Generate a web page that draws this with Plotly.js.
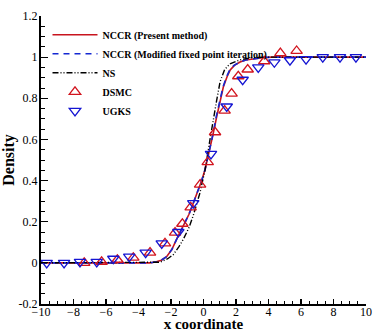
<!DOCTYPE html>
<html>
<head>
<meta charset="utf-8">
<script src="https://cdn.plot.ly/plotly-3.0.1.min.js"></script>
<style>
  html, body { margin: 0; padding: 0; background: #fff; }
  #chart { width: 374px; height: 332px; }
</style>
</head>
<body>
<div id="chart"></div>
<script>
// NCCR (present method)
const nccrX = [-10, -3.3, -2.9, -2.6, -2.27, -1.95, -1.65, -1.24, -0.9, -0.63, -0.35, -0.11, 0.1, 0.3, 0.6, 0.81, 0.95, 1.22, 1.45, 1.63, 1.9, 2.25, 2.6, 3.06, 3.6, 4.2, 10];
const nccrY = [0, 0, 0.005, 0.013, 0.03, 0.065, 0.115, 0.18, 0.235, 0.29, 0.345, 0.40, 0.455, 0.52, 0.63, 0.71, 0.765, 0.855, 0.905, 0.936, 0.96, 0.976, 0.986, 0.992, 0.997, 1, 1];

// NCCR (modified fixed point iteration)
const mfpX = [-10, -3.3, -2.9, -2.6, -2.27, -1.95, -1.65, -1.24, -0.9, -0.63, -0.35, -0.11, 0.1, 0.3, 0.6, 0.78, 0.93, 1.2, 1.42, 1.6, 1.88, 2.22, 2.6, 3.06, 3.6, 4.2, 10];
const mfpY = [0, 0, 0.005, 0.013, 0.03, 0.065, 0.115, 0.18, 0.235, 0.29, 0.345, 0.40, 0.455, 0.52, 0.63, 0.71, 0.765, 0.855, 0.905, 0.936, 0.96, 0.976, 0.986, 0.992, 0.997, 1, 1];

// NS
const nsX = [-10, -3, -2.68, -2.2, -1.86, -1.5, -1.24, -0.9, -0.63, -0.22, 0.09, 0.4, 0.6, 0.81, 1.02, 1.3, 1.63, 2.25, 3, 4, 10];
const nsY = [0, 0, 0.003, 0.02, 0.04, 0.08, 0.115, 0.17, 0.23, 0.34, 0.45, 0.6, 0.7, 0.79, 0.88, 0.94, 0.968, 0.987, 0.998, 1, 1];

// DSMC
const dsmcX = [-7.34, -6.27, -5.30, -4.32, -3.29, -2.37, -1.75, -1.30, -0.79, -0.21, 0.26, 0.71, 1.3, 1.73, 2.14, 2.72, 3.74, 4.73, 5.73];
const dsmcY = [0, 0.005, 0.015, 0.025, 0.05, 0.095, 0.147, 0.19, 0.27, 0.38, 0.49, 0.635, 0.74, 0.823, 0.907, 0.94, 0.98, 1.02, 1.03];

// UGKS
const ugksX = [-9.65, -8.58, -7.6, -6.57, -5.55, -4.57, -3.56, -2.57, -1.55, -0.63, 0.46, 1.43, 2.41, 3.37, 4.36, 5.32, 6.31, 7.34, 8.4, 9.38];
const ugksY = [0, 0, 0.005, 0.005, 0.02, 0.03, 0.05, 0.095, 0.15, 0.29, 0.53, 0.76, 0.89, 0.95, 0.975, 0.985, 0.99, 1, 1, 1];

const serif = 'Liberation Serif, Times New Roman, serif';

const traces = [
    {
        x: nccrX, y: nccrY, type: 'scatter', mode: 'lines',
        name: '<b>NCCR (Present method)</b>',
        line: { color: '#c8141e', width: 1.6 }
    },
    {
        x: mfpX, y: mfpY, type: 'scatter', mode: 'lines',
        name: '<b>NCCR (Modified fixed point iteration)</b>',
        line: { color: '#1428d2', width: 1.6, dash: '6px,5px' }
    },
    {
        x: nsX, y: nsY, type: 'scatter', mode: 'lines',
        name: '<b>NS</b>',
        line: { color: '#000000', width: 1.4, dash: '6px,2px,1px,2px,1px,2px' }
    },
    {
        x: dsmcX, y: dsmcY, type: 'scatter', mode: 'markers',
        name: '<b>DSMC</b>',
        marker: { symbol: 'triangle-up-open', size: 10, color: '#d2141e', line: { width: 1.3 } }
    },
    {
        x: ugksX, y: ugksY, type: 'scatter', mode: 'markers',
        name: '<b>UGKS</b>',
        marker: { symbol: 'triangle-down-open', size: 10, color: '#1414d2', line: { width: 1.3 } }
    }
];

const layout = {
    width: 374,
    height: 332,
    margin: { l: 41, r: 8, t: 16, b: 28 },
    paper_bgcolor: '#fff',
    plot_bgcolor: '#fff',
    font: { family: serif, color: '#000', size: 12 },
    showlegend: true,
    legend: {
        x: 0.02, y: 0.985, xanchor: 'left', yanchor: 'top',
        bgcolor: 'rgba(0,0,0,0)',
        font: { family: serif, size: 10, color: '#000' },
        tracegroupgap: 0,
        itemwidth: 45
    },
    xaxis: {
        range: [-10, 10],
        tickmode: 'linear', tick0: -10, dtick: 2,
        ticks: 'inside', ticklen: 5, tickwidth: 1.2, tickcolor: '#000',
        minor: { dtick: 0.5, ticks: 'inside', ticklen: 3, tickwidth: 1, tickcolor: '#000', showgrid: false },
        showline: true, linecolor: '#000', linewidth: 2,
        showgrid: false, zeroline: false,
        tickfont: { family: serif, size: 12, color: '#000' },
        ticklabelstandoff: -4,
        title: { text: '<b>x coordinate</b>', font: { family: serif, size: 15, color: '#000' } }
    },
    yaxis: {
        range: [-0.2, 1.2],
        tickmode: 'array',
        tickvals: [-0.2, 0, 0.2, 0.4, 0.6, 0.8, 1, 1.2],
        ticktext: ['-0.2', '0', '0.2', '0.4', '0.6', '0.8', '1', '1.2'],
        ticks: 'inside', ticklen: 7, tickwidth: 1.2, tickcolor: '#000',
        minor: { dtick: 0.05, tick0: 0, ticks: 'inside', ticklen: 4, tickwidth: 1, tickcolor: '#000', showgrid: false },
        showline: true, linecolor: '#000', linewidth: 2,
        showgrid: false, zeroline: false,
        tickfont: { family: serif, size: 12, color: '#000' },
        ticklabelstandoff: -1,
        title: { text: '<b>Density</b>', font: { family: serif, size: 16, color: '#000' }, standoff: 2 }
    }
};

Plotly.newPlot('chart', traces, layout, { displayModeBar: false, staticPlot: true });
</script>
</body>
</html>
